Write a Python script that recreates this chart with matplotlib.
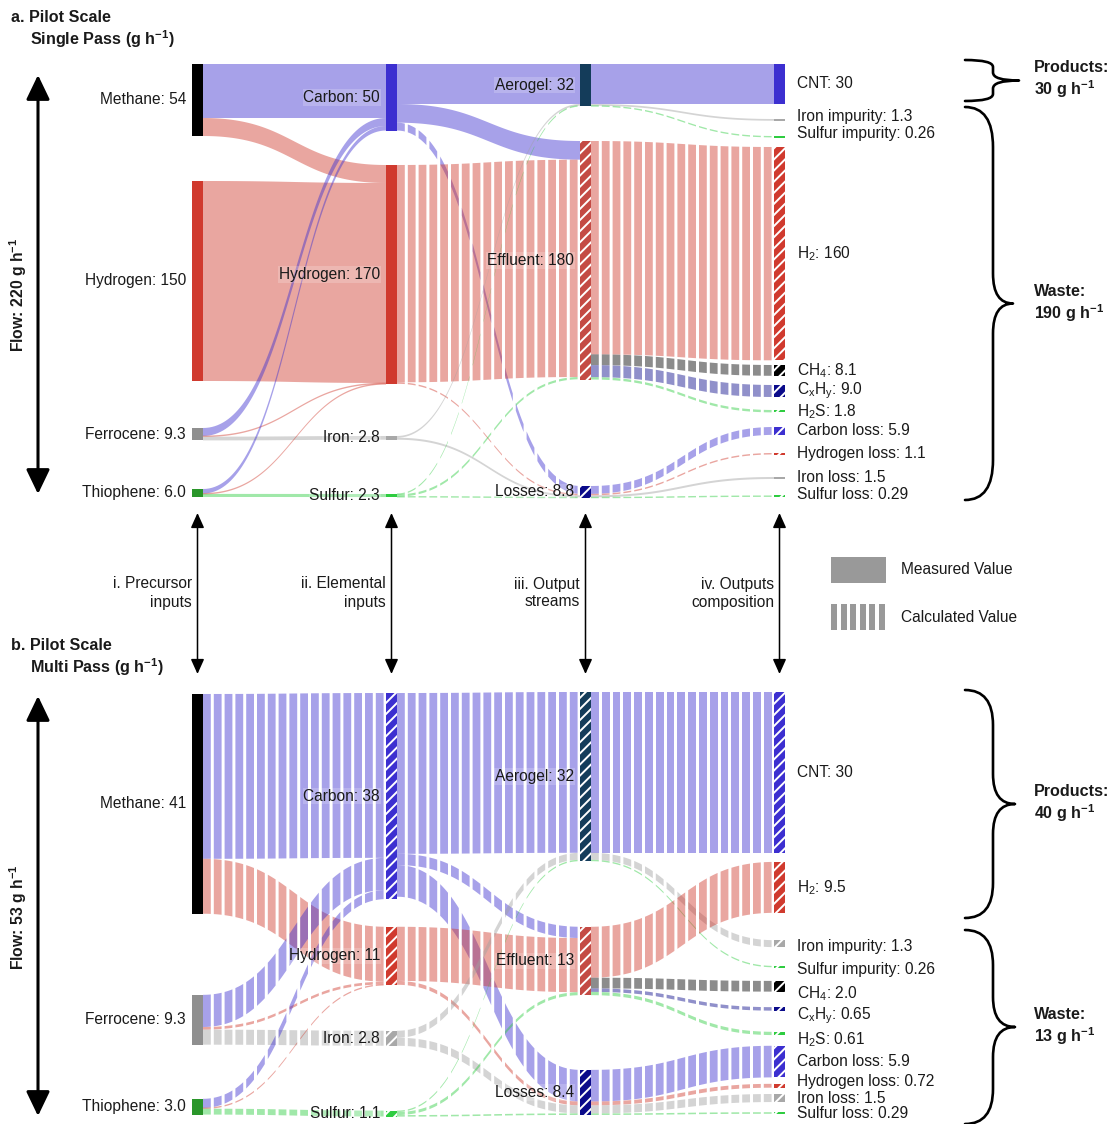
import numpy as np
import matplotlib
matplotlib.use('Agg')
import matplotlib.pyplot as plt
from matplotlib.patches import Rectangle, PathPatch
from matplotlib.path import Path
from matplotlib.collections import PolyCollection
from matplotlib.colors import to_rgba

plt.rcParams['font.family'] = ['Liberation Sans', 'DejaVu Sans']
plt.rcParams['mathtext.fontset'] = 'custom'
plt.rcParams['mathtext.rm'] = 'Liberation Sans'
plt.rcParams['mathtext.it'] = 'Liberation Sans:italic'
plt.rcParams['mathtext.bf'] = 'Liberation Sans:bold'
plt.rcParams['hatch.linewidth'] = 1.4
plt.rcParams['font.size'] = 11.2
plt.rcParams['text.color'] = '#1a1a1a'

# ---------------- data ----------------
# a. single pass
a_nodes = ['methane', 'hydrogen_in', 'ferrocene', 'thiophene',
           'carbon', 'hydrogen', 'iron', 'sulfur',
           'aerogel', 'effluent', 'losses',
           'cnt', 'fe_imp', 's_imp', 'h2', 'ch4', 'cxhy', 'h2s',
           'c_loss', 'h_loss', 'fe_loss', 's_loss']
a_labels = ['Methane: 54', 'Hydrogen: 150', 'Ferrocene: 9.3', 'Thiophene: 6.0',
            'Carbon: 50', 'Hydrogen: 170', 'Iron: 2.8', 'Sulfur: 2.3',
            'Aerogel: 32', 'Effluent: 180', 'Losses: 8.8',
            'CNT: 30', 'Iron impurity: 1.3', 'Sulfur impurity: 0.26', 'H$_2$: 160',
            'CH$_4$: 8.1', 'C$_\\mathrm{x}$H$_\\mathrm{y}$: 9.0', 'H$_2$S: 1.8',
            'Carbon loss: 5.9', 'Hydrogen loss: 1.1', 'Iron loss: 1.5', 'Sulfur loss: 0.29']
a_node_calc = [False, False, False, False,
               False, False, False, False,
               False, True, True,
               False, False, False, True, True, True, True,
               True, True, False, True]
a_source = ['methane', 'methane', 'hydrogen_in', 'ferrocene', 'ferrocene', 'ferrocene',
            'thiophene', 'thiophene', 'thiophene',
            'carbon', 'carbon', 'carbon', 'hydrogen', 'hydrogen', 'iron', 'iron',
            'sulfur', 'sulfur', 'sulfur',
            'aerogel', 'aerogel', 'aerogel', 'effluent', 'effluent', 'effluent', 'effluent',
            'losses', 'losses', 'losses', 'losses']
a_target = ['carbon', 'hydrogen', 'hydrogen', 'carbon', 'hydrogen', 'iron',
            'carbon', 'hydrogen', 'sulfur',
            'aerogel', 'effluent', 'losses', 'effluent', 'losses', 'aerogel', 'losses',
            'aerogel', 'effluent', 'losses',
            'cnt', 'fe_imp', 's_imp', 'h2', 'ch4', 'cxhy', 'h2s',
            'c_loss', 'h_loss', 'fe_loss', 's_loss']
a_value = [40.5, 13.5, 150, 6.0, 0.5, 2.8,
           3.4, 0.29, 2.3,
           30, 14, 5.9, 163, 1.1, 1.3, 1.5,
           0.26, 1.7, 0.29,
           30, 1.3, 0.26, 160, 8.1, 9.0, 1.8,
           5.9, 1.1, 1.5, 0.29]
a_calc = [False, False, False, False, False, False,
          False, False, False,
          False, False, True, True, True, False, False,
          True, True, True,
          False, False, True, True, True, True, True,
          True, True, False, True]

# b. multi pass
b_nodes = ['methane', 'ferrocene', 'thiophene',
           'carbon', 'hydrogen', 'iron', 'sulfur',
           'aerogel', 'effluent', 'losses',
           'cnt', 'h2', 'fe_imp', 's_imp', 'ch4', 'cxhy', 'h2s',
           'c_loss', 'h_loss', 'fe_loss', 's_loss']
b_labels = ['Methane: 41', 'Ferrocene: 9.3', 'Thiophene: 3.0',
            'Carbon: 38', 'Hydrogen: 11', 'Iron: 2.8', 'Sulfur: 1.1',
            'Aerogel: 32', 'Effluent: 13', 'Losses: 8.4',
            'CNT: 30', 'H$_2$: 9.5', 'Iron impurity: 1.3', 'Sulfur impurity: 0.26',
            'CH$_4$: 2.0', 'C$_\\mathrm{x}$H$_\\mathrm{y}$: 0.65', 'H$_2$S: 0.61',
            'Carbon loss: 5.9', 'Hydrogen loss: 0.72', 'Iron loss: 1.5', 'Sulfur loss: 0.29']
b_node_calc = [False, False, False] + [True] * 18
b_source = ['methane', 'methane', 'ferrocene', 'ferrocene', 'ferrocene',
            'thiophene', 'thiophene', 'thiophene',
            'carbon', 'carbon', 'carbon', 'hydrogen', 'hydrogen', 'iron', 'iron',
            'sulfur', 'sulfur', 'sulfur',
            'aerogel', 'aerogel', 'aerogel', 'effluent', 'effluent', 'effluent', 'effluent',
            'losses', 'losses', 'losses', 'losses']
b_target = ['carbon', 'hydrogen', 'carbon', 'hydrogen', 'iron',
            'carbon', 'hydrogen', 'sulfur',
            'aerogel', 'effluent', 'losses', 'effluent', 'losses', 'aerogel', 'losses',
            'aerogel', 'effluent', 'losses',
            'cnt', 'fe_imp', 's_imp', 'h2', 'ch4', 'cxhy', 'h2s',
            'c_loss', 'h_loss', 'fe_loss', 's_loss']
b_value = [30.75, 10.25, 6.0, 0.5, 2.8,
           1.7, 0.14, 1.1,
           30, 2.1, 5.9, 10.1, 0.72, 1.3, 1.5,
           0.26, 0.57, 0.29,
           30, 1.3, 0.26, 9.5, 2.0, 0.65, 0.61,
           5.9, 0.72, 1.5, 0.29]
b_calc = [True] * len(b_value)

# ---------------- layout / style ----------------
W, H = 1111, 1124
COL_X0, COL_STEP, NODE_W = 192, 194, 11
NODE_COLUMN = {'methane': 0, 'hydrogen_in': 0, 'ferrocene': 0, 'thiophene': 0,
               'carbon': 1, 'hydrogen': 1, 'iron': 1, 'sulfur': 1,
               'aerogel': 2, 'effluent': 2, 'losses': 2}
NODE_COLOURS = {'methane': '#000000', 'hydrogen_in': '#d03a2e', 'ferrocene': '#8f8f8f',
                'thiophene': '#2a962a', 'carbon': '#3c2fd0', 'hydrogen': '#d03a2e',
                'iron': '#a8a8a8', 'sulfur': '#2ecc40', 'aerogel': '#143c5a',
                'effluent': '#c44a44', 'losses': '#0a0a8a', 'cnt': '#3c2fd0',
                'fe_imp': '#a8a8a8', 's_imp': '#2ecc40', 'h2': '#d03a2e', 'ch4': '#000000',
                'cxhy': '#0a0a8a', 'h2s': '#2ecc40', 'c_loss': '#3c2fd0', 'h_loss': '#d03a2e',
                'fe_loss': '#a8a8a8', 's_loss': '#2ecc40'}
ELEMENT = {'carbon': 'C', 'hydrogen': 'H', 'iron': 'Fe', 'sulfur': 'S', 'cnt': 'C',
           'fe_imp': 'Fe', 's_imp': 'S', 'h2': 'H', 'ch4': 'CH4', 'cxhy': 'CxHy', 'h2s': 'S',
           'c_loss': 'C', 'h_loss': 'H', 'fe_loss': 'Fe', 's_loss': 'S'}
LINK_COLOURS = {'C': '#3c2fd0', 'H': '#d03a2e', 'Fe': '#a0a0a0', 'S': '#2ecc40',
                'CH4': '#000000', 'CxHy': '#0a0a8a'}

# node tops in flow units (like plotly's fixed arrangement)
a_top = dict(methane=0, hydrogen_in=87.75, ferrocene=273, thiophene=318.75,
             carbon=0, hydrogen=75.75, iron=279, sulfur=322.5,
             aerogel=0, effluent=57.75, losses=316.5,
             cnt=0, fe_imp=41.25, s_imp=54.4, h2=62.25, ch4=225.75, cxhy=240.75,
             h2s=259.5, c_loss=272.25, h_loss=291.75, fe_loss=309.75, s_loss=324.0)
b_top = dict(methane=0.37, ferrocene=56.5, thiophene=75.9,
             carbon=0.19, hydrogen=43.8, iron=63.2, sulfur=78.1,
             aerogel=0, effluent=43.8, losses=70.5,
             cnt=0, h2=31.7, fe_imp=46.3, s_imp=51.1, ch4=53.9, cxhy=58.8, h2s=63.4,
             c_loss=66.0, h_loss=73.1, fe_loss=75.0, s_loss=78.4)
a_label_dy = dict(fe_imp=-3, s_imp=-3, s_loss=-2)   # px
b_label_dy = dict(fe_imp=3, s_imp=3, ch4=7, cxhy=7, h2s=6, h_loss=-4)


def column(k):
    return NODE_COLUMN.get(k, 3)


def fig_box(x0, y0, x1, y1):
    return [x0 / W, 1 - y1 / H, (x1 - x0) / W, (y1 - y0) / H]


def link_curve(x0, x1, y0, y1, n=90):
    t = np.linspace(0, 1, n)
    xm = (x0 + x1) / 2
    xs = (1 - t)**3 * x0 + 3 * (1 - t)**2 * t * xm + 3 * (1 - t) * t**2 * xm + t**3 * x1
    ys = y0 + (y1 - y0) * (3 * t**2 - 2 * t**3)
    return xs, ys


def stripe_polys(xs, top, bot, period, dash):
    polys = []
    for a in np.arange(xs[0], xs[-1], period):
        b = min(a + dash, xs[-1])
        xx = np.linspace(a, b, 6)
        tt = np.interp(xx, xs, top)
        bb = np.interp(xx, xs, bot)
        polys.append(np.column_stack([np.r_[xx, xx[::-1]], np.r_[tt, bb[::-1]]]))
    return polys


def draw_sankey(ax, nodes, labels, node_calc, src, tgt, val, calc, top, px, label_dy):
    nw = NODE_W / COL_STEP
    inflow = {k: 0.0 for k in nodes}
    outflow = {k: 0.0 for k in nodes}
    for s, t, v in zip(src, tgt, val):
        outflow[s] += v
        inflow[t] += v
    size = {k: max(inflow[k], outflow[k]) for k in nodes}
    centre = {k: top[k] + size[k] / 2 for k in nodes}

    idx = list(range(len(val)))
    s_off, t_off = dict(top), dict(top)
    ends = {}
    for i in sorted(idx, key=lambda i: centre[tgt[i]]):
        ends[i] = [s_off[src[i]]]
        s_off[src[i]] += val[i]
    for i in sorted(idx, key=lambda i: centre[src[i]]):
        ends[i].append(t_off[tgt[i]])
        t_off[tgt[i]] += val[i]

    min_th = 1.4 / px
    for i in idx:
        x0 = column(src[i]) + nw
        x1 = column(tgt[i])
        y0, y1 = ends[i]
        th = val[i]
        if th < min_th:
            y0 -= (min_th - th) / 2
            y1 -= (min_th - th) / 2
            th = min_th
        key = src[i] if column(src[i]) == 1 else tgt[i]
        colour = to_rgba(LINK_COLOURS[ELEMENT[key]], 0.45)
        xs, ys = link_curve(x0, x1, y0, y1)
        if calc[i]:
            polys = stripe_polys(xs, ys, ys + th, 10.8 / COL_STEP, 7.8 / COL_STEP)
        else:
            polys = [np.column_stack([np.r_[xs, xs[::-1]], np.r_[ys, (ys + th)[::-1]]])]
        ax.add_collection(PolyCollection(polys, facecolors=[colour], edgecolors='none',
                                         linewidths=0, zorder=1, clip_on=False))

    min_h = 2.0 / px
    for k, lab, hatched in zip(nodes, labels, node_calc):
        h = max(size[k], min_h)
        y = top[k] - (h - size[k]) / 2
        c = column(k)
        ax.add_patch(Rectangle((c, y), nw, h, facecolor=NODE_COLOURS[k],
                               edgecolor='white' if hatched else 'none',
                               hatch='///' if hatched else None, lw=0, zorder=3,
                               clip_on=False))
        yc = centre[k] + label_dy.get(k, 0) / px
        if c < 3:
            ax.text(c - 6 / COL_STEP, yc, lab, ha='right', va='center', zorder=4,
                    bbox=dict(boxstyle='square,pad=0.05', fc='white', ec='none', alpha=0.2))
        else:
            ax.text(3 + nw + 12 / COL_STEP, yc, lab, ha='left', va='center', zorder=4)


def brace(ax, x0, xs, xt, y0, y1, r_end, r_tip):
    ym = (y0 + y1) / 2
    verts = [(x0, y0), (xs, y0), (xs, y0 + r_end),
             (xs, ym - r_tip), (xs, ym), (xt, ym),
             (xs, ym), (xs, ym + r_tip),
             (xs, y1 - r_end), (xs, y1), (x0, y1)]
    codes = [Path.MOVETO, Path.CURVE3, Path.CURVE3,
             Path.LINETO, Path.CURVE3, Path.CURVE3,
             Path.CURVE3, Path.CURVE3,
             Path.LINETO, Path.CURVE3, Path.CURVE3]
    ax.add_patch(PathPatch(Path(verts, codes), fc='none', ec='black', lw=1.9,
                           capstyle='round', joinstyle='round'))


fig = plt.figure(figsize=(W / 100, H / 100), dpi=100)

# overlay in pixel coordinates for annotations
ov = fig.add_axes([0, 0, 1, 1])
ov.set_xlim(0, W)
ov.set_ylim(H, 0)
ov.axis('off')

panels = [
    (64, 500, 1.3333, a_nodes, a_labels, a_node_calc, a_source, a_target, a_value, a_calc,
     a_top, a_label_dy),
    (692, 1120, 5.36, b_nodes, b_labels, b_node_calc, b_source, b_target, b_value, b_calc,
     b_top, b_label_dy),
]
for y_top, y_bot, px, nodes, labels, ncalc, src, tgt, val, calc, top, ldy in panels:
    ax = fig.add_axes(fig_box(COL_X0, y_top, COL_X0 + 3 * COL_STEP + NODE_W, y_bot))
    ax.set_xlim(0, 3 + NODE_W / COL_STEP)
    ax.set_ylim((y_bot - y_top) / px, 0)
    ax.axis('off')
    draw_sankey(ax, nodes, labels, ncalc, src, tgt, val, calc, top, px, ldy)

bold = dict(fontweight='bold', fontsize=11.6)
sup = '$^{\\mathbf{-1}}$'

# titles
ov.text(11, 18, 'a. Pilot Scale', va='center', **bold)
ov.text(30, 39, 'Single Pass (g h' + sup + ')', va='center', **bold)
ov.text(11, 646, 'b. Pilot Scale', va='center', **bold)
ov.text(30, 667, 'Multi Pass (g h' + sup + ')', va='center', **bold)

# flow arrows
big = dict(arrowstyle='<|-|>,head_length=0.75,head_width=0.36', lw=2.2, color='black',
           mutation_scale=20, shrinkA=0, shrinkB=0)
ov.annotate('', xy=(38, 75), xytext=(38, 494), arrowprops=big)
ov.annotate('', xy=(38, 696), xytext=(38, 1116), arrowprops=big)
ov.text(18, 295, 'Flow: 220 g h' + sup, rotation=90, ha='center', va='center',
        fontweight='bold', fontsize=11.3)
ov.text(18, 917, 'Flow: 53 g h' + sup, rotation=90, ha='center', va='center',
        fontweight='bold', fontsize=11.3)

# column arrows and captions
small = dict(arrowstyle='<|-|>,head_length=0.6,head_width=0.27', lw=1.1, color='black',
             mutation_scale=15, shrinkA=0, shrinkB=0)
captions = ['i. Precursor\ninputs', 'ii. Elemental\ninputs', 'iii. Output\nstreams',
            'iv. Outputs\ncomposition']
for c, cap in enumerate(captions):
    xc = COL_X0 + c * COL_STEP + NODE_W / 2
    ov.annotate('', xy=(xc, 513), xytext=(xc, 674), arrowprops=small)
    ov.text(COL_X0 + c * COL_STEP, 593, cap, ha='right', va='center', multialignment='right',
            linespacing=1.25)

# legend
ov.add_patch(Rectangle((831, 557), 55, 26, fc='#999999', ec='none'))
ov.add_collection(PolyCollection(stripe_polys(np.array([831.0, 886.0]), np.array([604.0, 604.0]),
                                              np.array([630.0, 630.0]), 9.5, 6.3),
                                 facecolors='#999999', edgecolors='none'))
ov.text(901, 570, 'Measured Value', va='center')
ov.text(901, 617, 'Calculated Value', va='center')

# braces
brace(ov, 965, 993, 1019, 60, 101, 7, 8)
brace(ov, 965, 993, 1013, 107, 500, 40, 30)
brace(ov, 965, 993, 1015, 690, 918, 35, 30)
brace(ov, 965, 993, 1015, 930, 1124, 35, 30)
ov.text(1034, 80, 'Products:\n30 g h' + sup, va='center', linespacing=1.15, **bold)
ov.text(1034, 304, 'Waste:\n190 g h' + sup, va='center', linespacing=1.15, **bold)
ov.text(1034, 804, 'Products:\n40 g h' + sup, va='center', linespacing=1.15, **bold)
ov.text(1034, 1027, 'Waste:\n13 g h' + sup, va='center', linespacing=1.15, **bold)

fig.savefig('out.png', dpi=100, facecolor='white')
